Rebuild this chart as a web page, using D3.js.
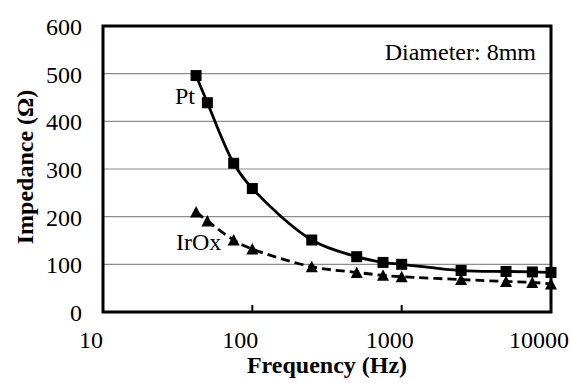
<!DOCTYPE html>
<head>
    <meta charset="utf-8">
    <title>Impedance vs frequency</title>
    <style>
        body { margin: 0; background: #fff; }
        text { font-family: "Liberation Serif", "Times New Roman", serif; fill: #000; }
    </style>
</head>
<body>
<svg width="570" height="383"></svg>
<script src="https://d3js.org/d3.v7.min.js"></script>
<script>

    // data
    var freq = [42, 50, 75, 100, 250, 500, 750, 1000, 2500, 5000, 7500, 10000];
    var pt   = [496, 439, 312, 259, 151, 116, 104, 100, 87, 85, 84, 83];
    var irox = [210, 191, 151, 132, 95, 83, 77, 74, 68, 64, 62, 59];
    var xTicks = [10, 100, 1000, 10000];
    var yTicks = [0, 100, 200, 300, 400, 500, 600];

    var svg = d3.select("svg"),
        margin = {top: 26, right: 19, bottom: 71, left: 103},
        width = 570 - margin.left - margin.right,
        height = 383 - margin.top - margin.bottom;

    var x = d3.scaleLog().domain([10, 10000]).range([0, width]),
        y = d3.scaleLinear().domain([0, 600]).range([height, 0]);

    var g = svg.append("g")
        .attr("transform", "translate(" + margin.left + "," + margin.top + ")");

    // horizontal gridlines
    g.selectAll(".grid")
        .data(yTicks.slice(1, -1))
        .enter().append("line")
        .attr("x1", 0).attr("x2", width)
        .attr("y1", y).attr("y2", y)
        .attr("stroke", "#8c8c8c")
        .attr("stroke-width", 1.2);

    // y tick labels
    g.selectAll(".ylab")
        .data(yTicks)
        .enter().append("text")
        .attr("x", -21)
        .attr("y", function(d) { return y(d) + 9; })
        .attr("text-anchor", "end")
        .style("font-size", "24px")
        .text(function(d) { return d; });

    // x ticks (inside) and labels, labels sit a bit left of their ticks
    g.selectAll(".xtick")
        .data(xTicks.slice(1, -1))
        .enter().append("line")
        .attr("x1", x).attr("x2", x)
        .attr("y1", height).attr("y2", height - 7)
        .attr("stroke", "#000")
        .attr("stroke-width", 2);

    g.selectAll(".xlab")
        .data(xTicks)
        .enter().append("text")
        .attr("x", function(d) { return x(d) - 12; })
        .attr("y", height + 36)
        .attr("text-anchor", "middle")
        .style("font-size", "24px")
        .text(function(d) { return d; });

    var line = d3.line()
        .x(function(d) { return x(d[0]); })
        .y(function(d) { return y(d[1]); })
        .curve(d3.curveCatmullRom);

    var ptData = freq.map(function(f, i) { return [f, pt[i]]; });
    var irData = freq.map(function(f, i) { return [f, irox[i]]; });

    g.append("path")
        .datum(irData)
        .attr("d", line)
        .attr("fill", "none")
        .attr("stroke", "#000")
        .attr("stroke-width", 2.8)
        .attr("stroke-dasharray", "9,5");

    g.append("path")
        .datum(ptData)
        .attr("d", line)
        .attr("fill", "none")
        .attr("stroke", "#000")
        .attr("stroke-width", 2.8);

    // frame
    g.append("rect")
        .attr("width", width).attr("height", height)
        .attr("fill", "none")
        .attr("stroke", "#000")
        .attr("stroke-width", 3);

    // markers
    g.selectAll(".sq")
        .data(ptData)
        .enter().append("rect")
        .attr("x", function(d) { return x(d[0]) - 5.5; })
        .attr("y", function(d) { return y(d[1]) - 5.5; })
        .attr("width", 11).attr("height", 11)
        .attr("fill", "#000");

    g.selectAll(".tri")
        .data(irData)
        .enter().append("path")
        .attr("transform", function(d) { return "translate(" + x(d[0]) + "," + y(d[1]) + ")"; })
        .attr("d", "M0,-6L6,5.5L-6,5.5Z")
        .attr("fill", "#000");

    // annotations
    g.append("text")
        .attr("x", 72).attr("y", 78)
        .style("font-size", "24px")
        .text("Pt");

    g.append("text")
        .attr("x", 73).attr("y", 224)
        .style("font-size", "24px")
        .text("IrOx");

    g.append("text")
        .attr("x", width - 15).attr("y", 34)
        .attr("text-anchor", "end")
        .style("font-size", "24px")
        .text("Diameter: 8mm");

    // axis titles
    svg.append("text")
        .attr("x", 327).attr("y", 373)
        .attr("text-anchor", "middle")
        .style("font-size", "24px")
        .style("font-weight", "bold")
        .text("Frequency (Hz)");

    svg.append("text")
        .attr("transform", "translate(33,167) rotate(-90)")
        .attr("text-anchor", "middle")
        .style("font-size", "24px")
        .style("font-weight", "bold")
        .text("Impedance (Ω)");

</script>
</body>
